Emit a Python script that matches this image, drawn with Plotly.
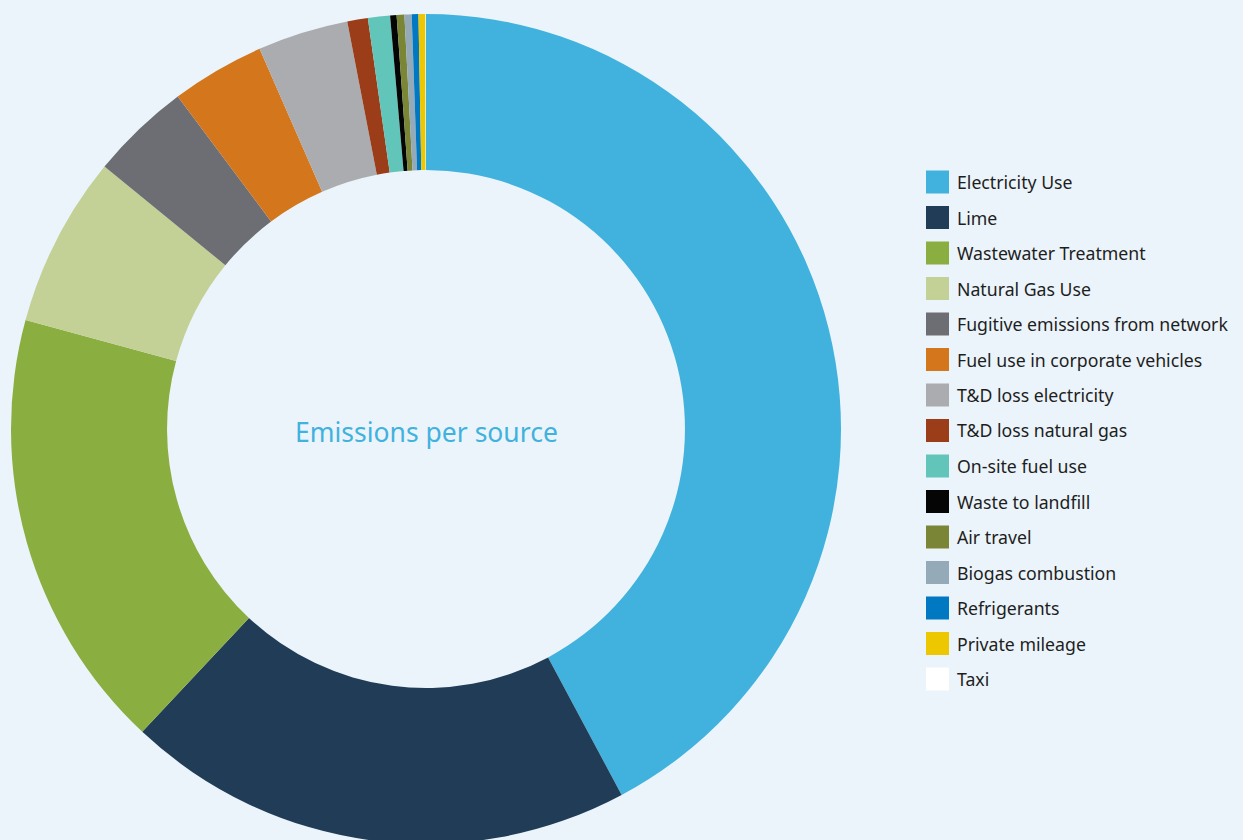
import plotly.graph_objects as go

categories = ["Electricity Use", "Lime", "Wastewater Treatment", "Natural Gas Use",
              "Fugitive emissions from network", "Fuel use in corporate vehicles",
              "T&D loss electricity", "T&D loss natural gas", "On-site fuel use",
              "Waste to landfill", "Air travel", "Biogas combustion", "Refrigerants",
              "Private mileage", "Taxi"]
values = [42.2, 19.8, 17.25, 6.67, 3.9, 3.64, 3.53, 0.8, 0.86, 0.25, 0.3, 0.28, 0.26, 0.27, 0.02]
colors = ["#41B2DD", "#213C57", "#8AAF40", "#C3D096", "#6D6E73", "#D4761C", "#ABACB0",
          "#9C3D1A", "#62C5BA", "#050505", "#7A8536", "#95AAB8", "#0079C2", "#EDC700", "#FFFFFF"]
center_title = "Emissions per source"

W, H = 1243, 860
BG = "#EBF4FA"
cx, cy, R = 426, 429, 415

def fx(x):
    return x / W

def fy(y):
    return 1 - y / H

fig = go.Figure(go.Pie(
    labels=categories, values=values, sort=False, direction="clockwise", rotation=0,
    hole=0.624, textinfo="none", hoverinfo="label+percent",
    marker=dict(colors=colors, line=dict(width=0)),
    domain=dict(x=[fx(cx - R), fx(cx + R)], y=[fy(cy + R), fy(cy - R)]),
    showlegend=False,
))

shapes = []
annotations = [dict(text=center_title, x=fx(426), y=fy(432), xref="paper", yref="paper",
                    showarrow=False, xanchor="center", yanchor="middle",
                    font=dict(family="Noto Sans", size=26.5, color="#41B2DD"))]
row0, step = 182, 35.5
for i, (lab, col) in enumerate(zip(categories, colors)):
    yc = row0 + i * step
    shapes.append(dict(type="rect", xref="paper", yref="paper",
                       x0=fx(926), x1=fx(949), y0=fy(yc + 11.5), y1=fy(yc - 11.5),
                       fillcolor=col, line=dict(width=0)))
    annotations.append(dict(text=lab, x=fx(955), y=fy(yc), xref="paper", yref="paper",
                            showarrow=False, xanchor="left", yanchor="middle",
                            font=dict(family="Noto Sans", size=17.7, color="#1E1E1E")))

fig.update_layout(width=W, height=H, margin=dict(l=0, r=0, t=0, b=0),
                  paper_bgcolor=BG, plot_bgcolor=BG,
                  shapes=shapes, annotations=annotations)
fig.write_html("out.html", config={"displayModeBar": False},
               post_script="document.body.style.margin='0';"
                           "document.body.style.overflow='hidden';"
                           "document.body.style.background='" + BG + "';")
